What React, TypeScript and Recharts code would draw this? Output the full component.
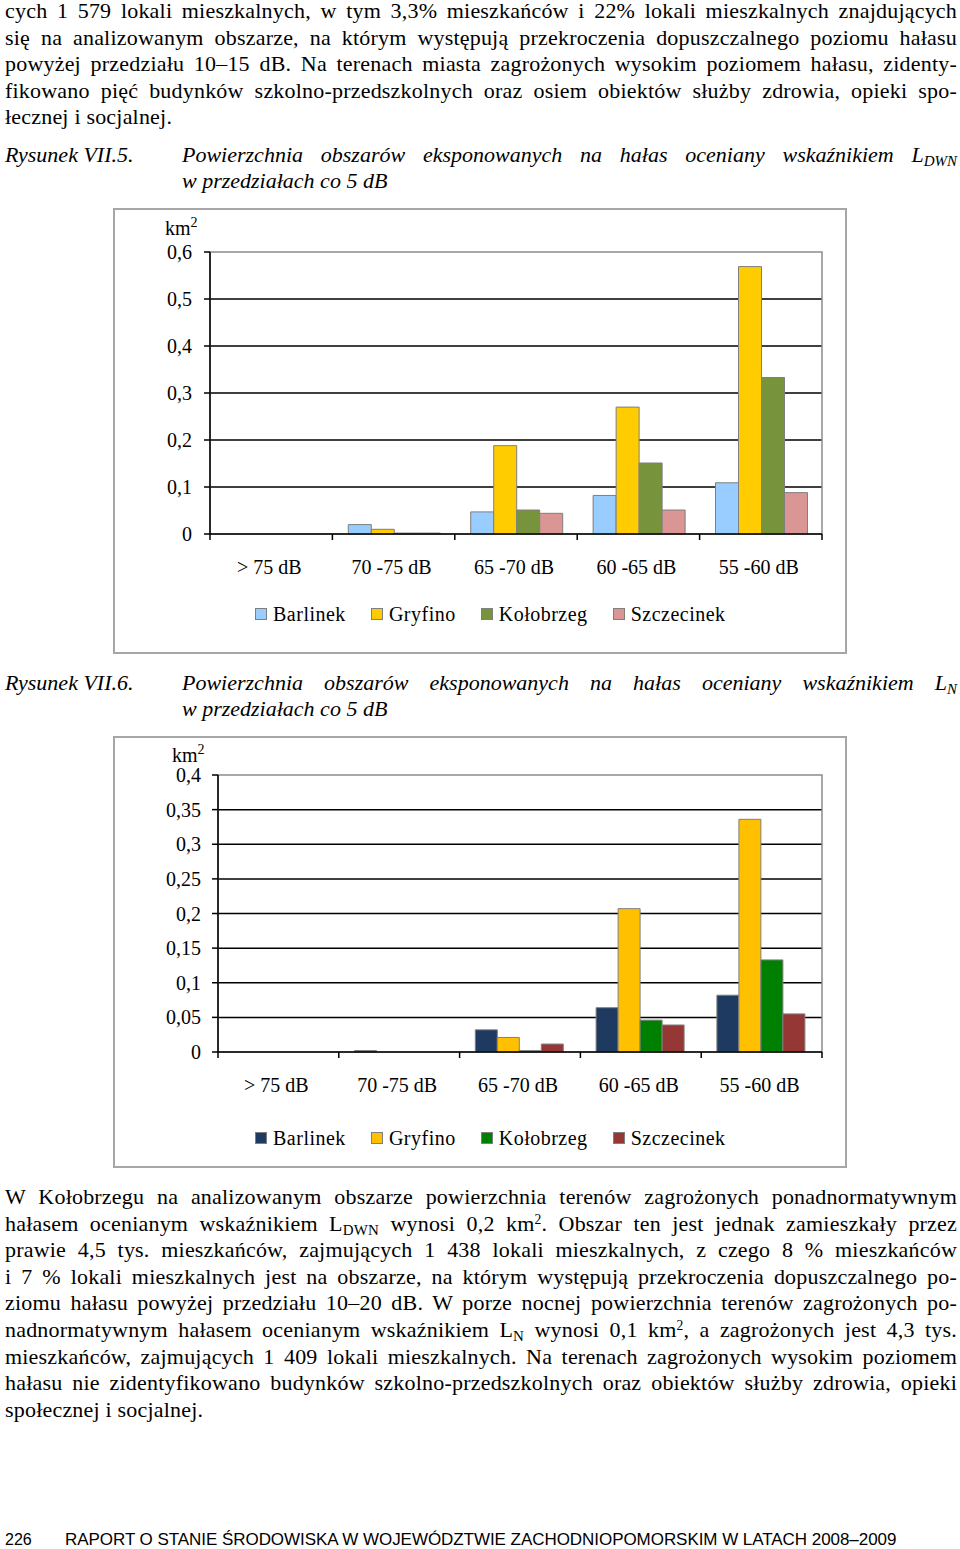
import React from 'react';
import { BarChart, Bar, XAxis, YAxis, CartesianGrid, Legend, ReferenceArea } from 'recharts';

const categories = ['> 75 dB', '70 -75 dB', '65 -70 dB', '60 -65 dB', '55 -60 dB'];
const seriesNames = ['Barlinek', 'Gryfino', 'Kołobrzeg', 'Szczecinek'];

// Rysunek VII.5 - wskaźnik LDWN [km2]
const ldwnBarlinek = [0, 0.02, 0.047, 0.082, 0.109];
const ldwnGryfino = [0, 0.01, 0.188, 0.27, 0.569];
const ldwnKolobrzeg = [0, 0.002, 0.051, 0.151, 0.333];
const ldwnSzczecinek = [0, 0.002, 0.044, 0.051, 0.088];
const ldwnTicks = [0, 0.1, 0.2, 0.3, 0.4, 0.5, 0.6];

// Rysunek VII.6 - wskaźnik LN [km2]
const lnBarlinek = [0, 0.002, 0.032, 0.064, 0.082];
const lnGryfino = [0, 0, 0.021, 0.207, 0.336];
const lnKolobrzeg = [0, 0, 0.002, 0.046, 0.133];
const lnSzczecinek = [0, 0, 0.0115, 0.039, 0.055];
const lnTicks = [0, 0.05, 0.1, 0.15, 0.2, 0.25, 0.3, 0.35, 0.4];

const ldwnColors = ['#99ccff', '#ffcc00', '#77933c', '#d99694'];
const lnColors = ['#1f3a60', '#ffc000', '#008000', '#953735'];

const SERIF = "'Liberation Serif', 'Times New Roman', serif";
const SANS = "'Liberation Sans', Arial, sans-serif";

const buildRows = (series: number[][]) =>
  categories.map((name, i) => {
    const row: any = { name };
    series.forEach((s, k) => (row[seriesNames[k]] = s[i]));
    return row;
  });

const fmt = (v: number) => String(Number(v.toFixed(3))).replace('.', ',');

const XTick = ({ x, y, payload, index, half }: any) => (
  <g>
    <line x1={x - half} x2={x - half} y1={y} y2={y + 6} stroke="#000" strokeWidth={1.5} />
    {index === categories.length - 1 && (
      <line x1={x + half} x2={x + half} y1={y} y2={y + 6} stroke="#000" strokeWidth={1.5} />
    )}
    <text x={x - 2} y={y + 33} textAnchor="middle" dominantBaseline="central" fontFamily={SERIF} fontSize={20} fill="#000">
      {payload.value}
    </text>
  </g>
);

const LegendContent = ({ payload }: any) => (
  <div style={{ display: 'flex', alignItems: 'center', height: 40, gap: 25, fontFamily: SERIF, fontSize: 20, color: '#000', letterSpacing: 0.5 }}>
    {(payload || []).map((p: any) => (
      <div key={p.value} style={{ display: 'flex', alignItems: 'center' }}>
        <span style={{ display: 'inline-block', width: 10, height: 10, background: p.color, border: '1px solid #7f7f7f', marginRight: 6 }} />
        <span>{p.value}</span>
      </div>
    ))}
  </div>
);

interface NoiseChartProps {
  rows: any[];
  colors: string[];
  ticks: number[];
  left: number;
  top: number;
  width: number;
  height: number;
  yAxisWidth: number;
  marginTop: number;
  xAxisHeight: number;
  legendBottom: number;
  tickMargin: number;
  kmX: number;
  kmDy: number;
}

const NoiseChart = (p: NoiseChartProps) => {
  const rightMargin = 25;
  const half = (p.width - p.yAxisWidth - rightMargin) / categories.length / 2;
  const yMax = p.ticks[p.ticks.length - 1];
  return (
    <>
      <div style={{ position: 'absolute', left: p.left, top: p.top, width: p.width, height: p.height, boxSizing: 'border-box', border: '2px solid #a6a6a6' }} />
      <div style={{ position: 'absolute', left: p.left, top: p.top }}>
        <BarChart
          width={p.width}
          height={p.height}
          data={p.rows}
          margin={{ top: p.marginTop, right: rightMargin, left: 0, bottom: p.legendBottom }}
          barCategoryGap="13%"
          barGap={0}
        >
          <CartesianGrid vertical={false} horizontalValues={p.ticks.slice(1, -1)} stroke="#000" strokeWidth={1.5} />
          <ReferenceArea y1={0} y2={yMax} fill="none" stroke="#8c8c8c" strokeWidth={1.5} />
          {seriesNames.map((s, i) => (
            <Bar key={s} dataKey={s} name={s} fill={p.colors[i]} stroke="#7f7f7f" strokeWidth={1} isAnimationActive={false} />
          ))}
          <XAxis
            dataKey="name"
            height={p.xAxisHeight}
            axisLine={{ stroke: '#000', strokeWidth: 1.5 }}
            tickLine={false}
            tickSize={0}
            tickMargin={0}
            interval={0}
            tick={<XTick half={half} />}
          />
          <YAxis
            width={p.yAxisWidth}
            domain={[0, yMax]}
            ticks={p.ticks}
            interval={0}
            tickFormatter={fmt}
            axisLine={{ stroke: '#000', strokeWidth: 1.5 }}
            tickLine={{ stroke: '#000', strokeWidth: 1.5 }}
            tickSize={6}
            tickMargin={p.tickMargin}
            tick={{ fill: '#000', fontFamily: SERIF, fontSize: 20 }}
            label={{
              content: ({ viewBox }: any) => (
                <text x={p.kmX} y={viewBox.y + p.kmDy} dominantBaseline="central" fontFamily={SERIF} fontSize={20} fill="#000">
                  km
                  <tspan fontSize={14} dy={-6}>2</tspan>
                </text>
              ),
            }}
          />
          <Legend
            verticalAlign="bottom"
            height={40}
            content={<LegendContent />}
            wrapperStyle={{ left: 142, width: 580 }}
          />
        </BarChart>
      </div>
    </>
  );
};

const BODY_FS = 22;
const lineStyle: React.CSSProperties = {
  width: 952,
  height: 26.6,
  lineHeight: '26.6px',
  textAlign: 'justify',
  textAlignLast: 'justify',
  whiteSpace: 'nowrap',
  letterSpacing: 0.2,
};
const lastLine: React.CSSProperties = { ...lineStyle, textAlignLast: 'left' };
const sub: React.CSSProperties = { fontSize: '0.68em', lineHeight: 0, verticalAlign: '-0.25em' };
const sup: React.CSSProperties = { fontSize: '0.62em', lineHeight: 0, verticalAlign: '0.55em' };

const Caption = ({ top, label, children }: any) => (
  <div style={{ position: 'absolute', left: 0, top, width: 960, fontStyle: 'italic', fontSize: 22, lineHeight: '26px' }}>
    <div style={{ position: 'absolute', left: 5, top: 0 }}>{label}</div>
    <div style={{ position: 'absolute', left: 182, top: 0, width: 775, textAlign: 'justify', textAlignLast: 'justify', whiteSpace: 'nowrap' }}>
      {children}
    </div>
    <div style={{ position: 'absolute', left: 182, top: 26 }}>w przedziałach co 5 dB</div>
  </div>
);

export default function App() {
  return (
    <div style={{ position: 'absolute', left: 0, top: 0, width: 960, height: 1549, background: '#fff', fontFamily: SERIF, color: '#000', overflow: 'hidden' }}>
      <div style={{ position: 'absolute', left: 5, top: 0, fontSize: BODY_FS }}>
        <div style={{ ...lineStyle, height: 24.6, lineHeight: '22px' }}>cych 1 579 lokali mieszkalnych, w tym 3,3% mieszkańców i 22% lokali mieszkalnych znajdujących</div>
        <div style={lineStyle}>się na analizowanym obszarze, na którym występują przekroczenia dopuszczalnego poziomu hałasu</div>
        <div style={lineStyle}>powyżej przedziału 10–15 dB. Na terenach miasta zagrożonych wysokim poziomem hałasu, zidenty-</div>
        <div style={lineStyle}>fikowano pięć budynków szkolno-przedszkolnych oraz osiem obiektów służby zdrowia, opieki spo-</div>
        <div style={lastLine}>łecznej i socjalnej.</div>
      </div>

      <Caption top={142} label="Rysunek VII.5.">
        Powierzchnia obszarów eksponowanych na hałas oceniany wskaźnikiem L<span style={sub}>DWN</span>
      </Caption>

      <NoiseChart
        rows={buildRows([ldwnBarlinek, ldwnGryfino, ldwnKolobrzeg, ldwnSzczecinek])}
        colors={ldwnColors}
        ticks={ldwnTicks}
        left={113}
        top={208}
        width={734}
        height={446}
        yAxisWidth={97}
        marginTop={44}
        xAxisHeight={60}
        legendBottom={20}
        tickMargin={12}
        kmX={52}
        kmDy={-24}
      />

      <Caption top={670} label="Rysunek VII.6.">
        Powierzchnia obszarów eksponowanych na hałas oceniany wskaźnikiem L<span style={sub}>N</span>
      </Caption>

      <NoiseChart
        rows={buildRows([lnBarlinek, lnGryfino, lnKolobrzeg, lnSzczecinek])}
        colors={lnColors}
        ticks={lnTicks}
        left={113}
        top={736}
        width={734}
        height={432}
        yAxisWidth={105}
        marginTop={39}
        xAxisHeight={66}
        legendBottom={10}
        tickMargin={11}
        kmX={59}
        kmDy={-20}
      />

      <div style={{ position: 'absolute', left: 5, top: 1184, fontSize: BODY_FS }}>
        <div style={lineStyle}>W Kołobrzegu na analizowanym obszarze powierzchnia terenów zagrożonych ponadnormatywnym</div>
        <div style={lineStyle}>
          hałasem ocenianym wskaźnikiem L<span style={sub}>DWN</span> wynosi 0,2 km<span style={sup}>2</span>. Obszar ten jest jednak zamieszkały przez
        </div>
        <div style={lineStyle}>prawie 4,5 tys. mieszkańców, zajmujących 1 438 lokali mieszkalnych, z czego 8 % mieszkańców</div>
        <div style={lineStyle}>i 7 % lokali mieszkalnych jest na obszarze, na którym występują przekroczenia dopuszczalnego po-</div>
        <div style={lineStyle}>ziomu hałasu powyżej przedziału 10–20 dB. W porze nocnej powierzchnia terenów zagrożonych po-</div>
        <div style={lineStyle}>
          nadnormatywnym hałasem ocenianym wskaźnikiem L<span style={sub}>N</span> wynosi 0,1 km<span style={sup}>2</span>, a zagrożonych jest 4,3 tys.
        </div>
        <div style={lineStyle}>mieszkańców, zajmujących 1 409 lokali mieszkalnych. Na terenach zagrożonych wysokim poziomem</div>
        <div style={lineStyle}>hałasu nie zidentyfikowano budynków szkolno-przedszkolnych oraz obiektów służby zdrowia, opieki</div>
        <div style={lastLine}>społecznej i socjalnej.</div>
      </div>

      <div style={{ position: 'absolute', left: 5, top: 1530, fontFamily: SANS, fontSize: 16, lineHeight: '20px' }}>226</div>
      <div style={{ position: 'absolute', left: 65, top: 1530, fontFamily: SANS, fontSize: 17, lineHeight: '20px', whiteSpace: 'nowrap', letterSpacing: -0.05 }}>
        RAPORT O STANIE ŚRODOWISKA W WOJEWÓDZTWIE ZACHODNIOPOMORSKIM W LATACH 2008–2009
      </div>
    </div>
  );
}
